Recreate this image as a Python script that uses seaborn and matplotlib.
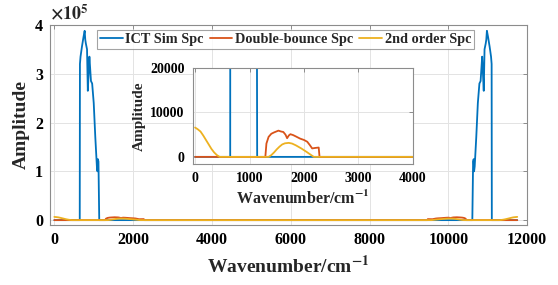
import matplotlib
matplotlib.use("Agg")
import matplotlib.pyplot as plt
import seaborn as sns
import pandas as pd

# ---- data (wavenumber in cm^-1, amplitude) ----
ict_w = [0, 645, 650, 665, 700, 740, 770, 785, 800, 830, 850, 870, 890, 910, 930, 960, 1000, 1040,
         1080, 1095, 1105, 1120, 1140,
         10610, 10630, 10645, 10655, 10670, 10710, 10750, 10790, 10820, 10840, 10860, 10880, 10900,
         10920, 10950, 10965, 10980, 11010, 11050, 11085, 11100, 11105, 11750]
ict_a = [0, 0, 320000, 335000, 355000, 375000, 388000, 370000, 362000, 350000, 265000, 300000, 335000,
         310000, 285000, 280000, 240000, 170000, 110000, 100000, 125000, 120000, 0,
         0, 120000, 125000, 100000, 110000, 170000, 240000, 280000, 285000, 310000, 335000, 300000,
         265000, 350000, 362000, 370000, 388000, 375000, 355000, 335000, 320000, 0, 0]

db_w = [0, 1290, 1310, 1350, 1400, 1450, 1530, 1580, 1620, 1660, 1690, 1720, 1750, 1800, 1850, 1930,
        2000, 2060, 2110, 2150, 2200, 2270, 2285,
        9465, 9480, 9550, 9600, 9640, 9690, 9750, 9820, 9900, 9950, 10000, 10030, 10060, 10090, 10130,
        10170, 10220, 10300, 10350, 10400, 10440, 10460, 11750]
db_a = [0, 0, 3000, 4500, 5200, 5500, 5900, 5700, 5600, 5000, 4200, 4800, 5100, 4900, 4600, 4100,
        3800, 3400, 2600, 1900, 2000, 2100, 0,
        0, 2100, 2000, 1900, 2600, 3400, 3800, 4100, 4600, 4900, 5100, 4800, 4200, 5000, 5600,
        5700, 5900, 5500, 5200, 4500, 3000, 0, 0]

so_w = [0, 50, 100, 150, 200, 250, 300, 350, 400, 450, 1350, 1400, 1450, 1500, 1550, 1600, 1650, 1720,
        1780, 1850, 1950, 2050, 2120, 2180,
        9570, 9630, 9700, 9800, 9900, 9970, 10030, 10100, 10150, 10200, 10250, 10300, 10350, 10400,
        11300, 11350, 11400, 11450, 11500, 11550, 11600, 11650, 11700, 11750]
so_a = [6600, 6200, 5700, 4800, 3800, 2800, 1800, 1000, 400, 0, 0, 400, 1000, 1700, 2300, 2800, 3050,
        3150, 3000, 2600, 1900, 1100, 500, 0,
        0, 500, 1100, 1900, 2600, 3000, 3150, 3050, 2800, 2300, 1700, 1000, 400, 0,
        0, 400, 1000, 1800, 2800, 3800, 4800, 5700, 6200, 6600]

series_names = ["ICT Sim Spc", "Double-bounce Spc", "2nd order Spc"]
colors = ["#0072BD", "#D95319", "#EDB120"]

main_xticks = [0, 2000, 4000, 6000, 8000, 10000, 12000]
main_yticks = [0, 100000, 200000, 300000, 400000]
main_yticklabels = ["0", "1", "2", "3", "4"]
inset_xticks = [0, 1000, 2000, 3000, 4000]
inset_yticks = [0, 10000, 20000]

df = pd.concat([
    pd.DataFrame({"w": ict_w, "a": ict_a, "s": series_names[0]}),
    pd.DataFrame({"w": db_w, "a": db_a, "s": series_names[1]}),
    pd.DataFrame({"w": so_w, "a": so_a, "s": series_names[2]}),
], ignore_index=True)

sns.set_style("white")
plt.rcParams["font.family"] = ["Liberation Serif", "DejaVu Serif"]
plt.rcParams["font.weight"] = "bold"
plt.rcParams["mathtext.fontset"] = "stix"

fig = plt.figure(figsize=(5.58, 2.85), dpi=100)
spine_col = "#8c8c8c"
grid_col = "#e3e3e3"


def style(ax, fs, pad):
    for sp in ax.spines.values():
        sp.set_color(spine_col)
        sp.set_linewidth(0.8)
        sp.set_visible(True)
    ax.grid(True, color=grid_col, lw=0.7)
    ax.set_axisbelow(True)
    ax.tick_params(direction="in", length=3, width=0.7, color=spine_col, labelsize=fs,
                   top=True, right=True, labelcolor="black", pad=pad)
    for lab in ax.get_xticklabels() + ax.get_yticklabels():
        lab.set_fontweight("bold")


ax = fig.add_axes([0.0896, 0.2105, 0.855, 0.702])
sns.lineplot(data=df, x="w", y="a", hue="s", hue_order=series_names, palette=colors,
             estimator=None, sort=False, lw=1.3, ax=ax, legend=False)
ax.set_xlim(-110, 12000)
ax.set_ylim(-10000, 400000)
ax.set_xticks(main_xticks)
ax.set_yticks(main_yticks)
ax.set_yticklabels(main_yticklabels)
style(ax, 11.5, 5)
ax.set_xlabel("Wavenumber/cm$^{\\mathbf{-1}}$", fontsize=14, fontweight="bold", labelpad=5)
ax.set_ylabel("Amplitude", fontsize=14, fontweight="bold", labelpad=4)
ax.text(0.0, 1.01, "$\\times10^{5}$", transform=ax.transAxes, fontsize=13,
        fontweight="normal", ha="left", va="bottom")

handles = [plt.Line2D([], [], color=c, lw=1.3) for c in colors]
leg = ax.legend(handles, series_names, ncol=3, loc="upper left", bbox_to_anchor=(0.098, 0.975),
                frameon=True, fancybox=False, fontsize=10.3, handlelength=1.6, handletextpad=0.2,
                columnspacing=0.4, borderpad=0.2, borderaxespad=0)
leg.get_frame().set_edgecolor(spine_col)
leg.get_frame().set_linewidth(0.8)
for t in leg.get_texts():
    t.set_fontweight("bold")

ins = fig.add_axes([0.346, 0.4246, 0.394, 0.337])
sns.lineplot(data=df, x="w", y="a", hue="s", hue_order=series_names, palette=colors,
             estimator=None, sort=False, lw=1.3, ax=ins, legend=False)
ins.set_xlim(-37, 4000)
ins.set_ylim(-1600, 20000)
ins.set_xticks(inset_xticks)
ins.set_yticks(inset_yticks)
ins.set_facecolor("white")
style(ins, 10, 6)
ins.set_xlabel("Wavenumber/cm$^{\\mathbf{-1}}$", fontsize=11.5, fontweight="bold", labelpad=3)
ins.set_ylabel("Amplitude", fontsize=11, fontweight="bold", labelpad=3)

fig.savefig("out.png", dpi=100)
